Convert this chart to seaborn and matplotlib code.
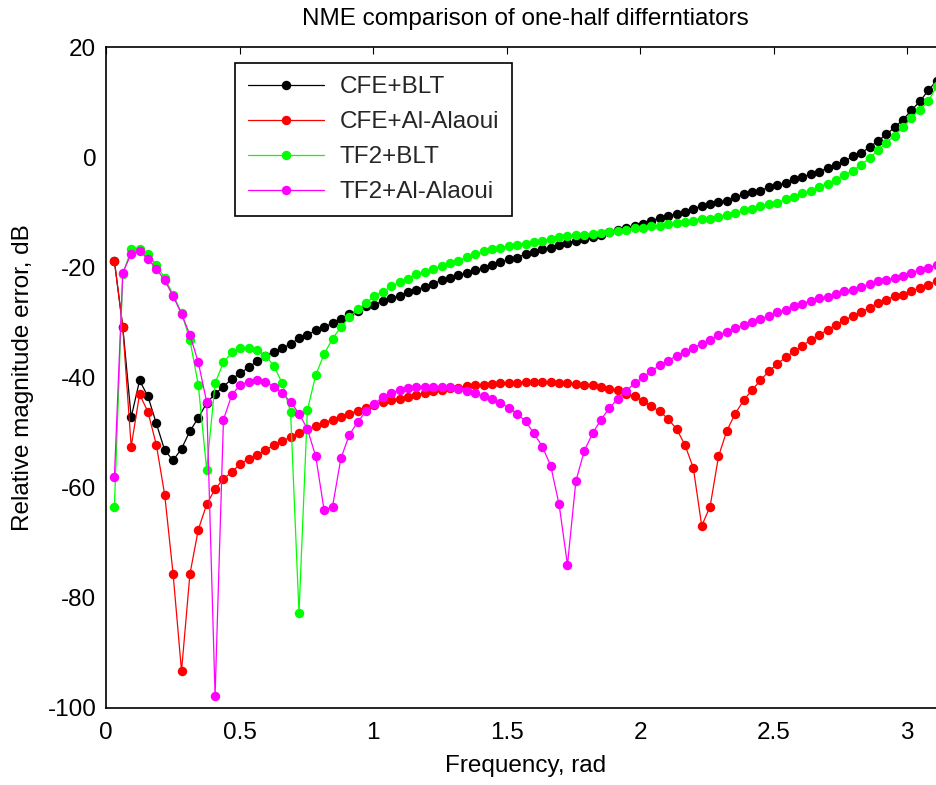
import numpy as np
import pandas as pd
import matplotlib
matplotlib.use("Agg")
import matplotlib.pyplot as plt
import seaborn as sns

# Frequency grid: 100 evenly spaced samples up to pi rad
freq = np.linspace(np.pi / 100, np.pi, 100)

cfe_blt = [
    -18.8, -30.8, -47.2, -40.5, -43.4, -48.3, -53.2, -55.0, -52.9, -49.7,
    -47.3, -44.6, -42.9, -41.6, -40.2, -39.2, -38.1, -37.0, -36.1, -35.3,
    -34.6, -33.9, -32.8, -32.2, -31.4, -30.8, -30.1, -29.3, -28.5, -27.9,
    -27.0, -26.7, -26.1, -25.6, -25.1, -24.5, -24.0, -23.5, -22.9, -22.3,
    -21.8, -21.4, -20.9, -20.5, -20.1, -19.5, -19.0, -18.5, -18.2, -17.5,
    -17.1, -16.7, -16.4, -15.8, -15.5, -15.1, -14.8, -14.4, -14.0, -13.5,
    -13.2, -12.8, -12.5, -12.0, -11.5, -11.0, -10.7, -10.2, -9.9, -9.3,
    -8.8, -8.5, -8.1, -7.8, -7.2, -6.7, -6.3, -6.0, -5.4, -5.0,
    -4.7, -3.9, -3.6, -3.0, -2.6, -1.9, -1.3, -0.7, 0.2, 0.8,
    1.9, 3.0, 4.2, 5.5, 6.9, 8.6, 10.2, 12.2, 14.0, 16.2,
]

cfe_alaoui = [
    -18.8, -30.8, -52.5, -43.0, -46.2, -52.2, -61.3, -75.7, -93.3, -75.7,
    -67.6, -63.0, -60.2, -58.4, -57.1, -55.7, -54.7, -54.0, -53.2, -52.2,
    -51.5, -50.8, -50.1, -49.4, -48.8, -48.2, -47.6, -47.1, -46.5, -46.0,
    -45.5, -45.0, -44.4, -44.1, -43.8, -43.5, -43.1, -42.8, -42.4, -42.2,
    -41.9, -41.8, -41.5, -41.4, -41.3, -41.2, -41.0, -41.0, -40.9, -40.7,
    -40.7, -40.7, -40.7, -40.9, -41.0, -41.1, -41.3, -41.4, -41.7, -42.0,
    -42.3, -42.9, -43.4, -44.2, -45.2, -46.1, -47.5, -49.3, -52.2, -56.4,
    -66.9, -63.4, -54.3, -49.6, -46.5, -44.1, -42.2, -40.5, -38.8, -37.5,
    -36.3, -35.2, -34.2, -33.1, -32.2, -31.3, -30.4, -29.6, -28.8, -28.1,
    -27.3, -26.4, -25.8, -25.2, -24.9, -24.3, -23.7, -23.1, -22.5, -22.0,
]

tf2_blt = [
    -63.4, -21.2, -16.7, -16.6, -17.6, -19.5, -21.9, -24.9, -28.2, -33.1,
    -41.3, -56.7, -41.0, -37.2, -35.4, -34.6, -34.6, -34.9, -36.0, -37.8,
    -41.0, -46.2, -82.8, -45.9, -39.5, -35.7, -32.9, -30.8, -29.0, -27.6,
    -26.5, -25.1, -24.4, -23.4, -22.6, -22.0, -21.1, -20.7, -20.2, -19.7,
    -19.2, -18.7, -18.1, -17.6, -17.0, -16.7, -16.4, -16.0, -15.8, -15.7,
    -15.4, -15.1, -14.8, -14.5, -14.3, -14.1, -14.0, -13.8, -13.7, -13.5,
    -13.4, -13.1, -12.8, -12.8, -12.5, -12.4, -12.1, -11.8, -11.7, -11.5,
    -11.1, -11.1, -10.8, -10.4, -10.1, -9.6, -9.3, -8.8, -8.5, -8.2,
    -7.6, -7.2, -6.5, -6.1, -5.4, -4.8, -4.0, -3.1, -2.4, -1.3,
    -0.1, 1.3, 2.7, 4.0, 5.5, 7.2, 8.7, 10.2, 13.0, 14.8,
]

tf2_alaoui = [
    -58.1, -20.9, -17.5, -17.0, -18.4, -20.2, -22.3, -25.2, -28.4, -32.2,
    -37.2, -44.4, -97.8, -47.6, -43.1, -41.3, -40.7, -40.5, -40.8, -41.6,
    -42.8, -44.4, -46.5, -49.3, -54.3, -64.1, -63.4, -54.6, -50.4, -48.0,
    -46.1, -44.7, -43.5, -42.8, -42.3, -41.9, -41.6, -41.6, -41.6, -41.6,
    -41.7, -42.1, -42.4, -42.8, -43.4, -43.9, -44.5, -45.5, -46.5, -47.9,
    -50.1, -52.5, -56.0, -63.0, -74.0, -58.8, -53.3, -50.1, -47.6, -45.5,
    -43.8, -42.4, -41.0, -39.9, -38.8, -37.7, -36.9, -36.0, -35.3, -34.6,
    -33.8, -33.1, -32.3, -31.6, -31.0, -30.5, -29.9, -29.3, -28.8, -28.1,
    -27.7, -27.0, -26.6, -26.0, -25.6, -25.3, -24.7, -24.3, -24.0, -23.6,
    -23.0, -22.5, -22.2, -21.9, -21.6, -21.0, -20.4, -20.1, -19.5, -19.0,
]

series_names = ["CFE+BLT", "CFE+Al-Alaoui", "TF2+BLT", "TF2+Al-Alaoui"]
series_values = [cfe_blt, cfe_alaoui, tf2_blt, tf2_alaoui]
series_colors = ["#000000", "#FF0000", "#00FF00", "#FF00FF"]

x_ticks = [0, 0.5, 1, 1.5, 2, 2.5, 3]
x_tick_labels = ["0", "0.5", "1", "1.5", "2", "2.5", "3"]
y_ticks = [-100, -80, -60, -40, -20, 0, 20]
y_tick_labels = ["-100", "-80", "-60", "-40", "-20", "0", "20"]

sns.set_theme(style="white")
plt.rcParams["font.family"] = ["Liberation Sans", "DejaVu Sans"]
plt.rcParams["axes.unicode_minus"] = False

fig = plt.figure(figsize=(9.36, 7.85), dpi=100)
ax = fig.add_axes([0.11325, 0.0981, 0.8964, 0.8414])

for name, vals, col in zip(series_names, series_values, series_colors):
    df = pd.DataFrame({"freq": freq, "err": vals})
    sns.lineplot(data=df, x="freq", y="err", ax=ax, color=col, label=name,
                 marker="o", markersize=6.8, markeredgewidth=0,
                 markeredgecolor=col, linewidth=0.9, sort=False,
                 estimator=None)

ax.set_xlim(0, np.pi)
ax.set_ylim(-100, 20)
ax.set_xticks(x_ticks)
ax.set_xticklabels(x_tick_labels)
ax.set_yticks(y_ticks)
ax.set_yticklabels(y_tick_labels)

fs = 17.5
ax.tick_params(axis="both", direction="in", length=5, width=0.8,
               colors="black", labelsize=fs, top=True, right=True)
ax.tick_params(axis="x", pad=10)
ax.tick_params(axis="y", pad=7)
for sp in ax.spines.values():
    sp.set_color("black")
    sp.set_linewidth(1.2)

ax.set_title("NME comparison of one-half differntiators", fontsize=fs,
             pad=16, color="black")
ax.set_xlabel("Frequency, rad", fontsize=fs, labelpad=8, color="black")
ax.set_ylabel("Relative magnitude error, dB", fontsize=fs, labelpad=10,
              color="black")
ax.grid(False)

leg = ax.legend(loc="upper left", bbox_to_anchor=(0.1538, 0.9765),
                fontsize=fs, frameon=True, fancybox=False, framealpha=1,
                edgecolor="black", handlelength=3.1, handletextpad=0.64,
                labelspacing=0.53, borderpad=0.55, borderaxespad=0)
leg.get_frame().set_linewidth(1.2)

fig.savefig("out.png", dpi=100)
